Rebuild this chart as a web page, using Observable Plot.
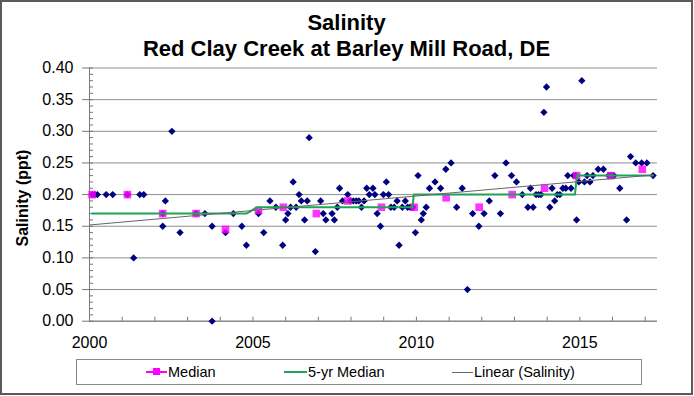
<!DOCTYPE html>
<html><head><meta charset="utf-8">
<script src="https://cdn.jsdelivr.net/npm/d3@7"></script>
<script src="https://cdn.jsdelivr.net/npm/@observablehq/plot@0.6"></script>
<style>
body{margin:0;background:#fff;font-family:"Liberation Sans",Arial,sans-serif;}
#chart{position:relative;width:694px;height:396px;overflow:hidden;background:#fff;}
#chart svg{position:absolute;left:0;top:0;}
#frame{position:absolute;left:0;top:0;width:693px;height:395px;box-sizing:border-box;border:2px solid #5a5a5a;pointer-events:none;}
.title{position:absolute;left:0;width:693px;text-align:center;font-weight:bold;font-size:22px;line-height:22px;color:#000;white-space:nowrap;}
#ytitle{position:absolute;left:23px;top:198px;transform:translate(-50%,-50%) rotate(-90deg);font-weight:bold;font-size:16px;white-space:nowrap;color:#000;}
#legend{position:absolute;left:76px;top:359px;width:566px;height:26px;box-sizing:border-box;border:1px solid #8a8a8a;background:#fff;}
.lg{position:absolute;top:0;height:24px;line-height:24px;font-size:14.5px;color:#000;white-space:nowrap;}
.sw{position:absolute;top:12px;}
</style>
</head><body>
<div id="chart">
  <div class="title" style="top:11.5px">Salinity</div>
  <div class="title" style="top:37.5px">Red Clay Creek at Barley Mill Road, DE</div>
  <div id="ytitle">Salinity (ppt)</div>
  <div id="legend">
    <div class="sw" style="left:69px;width:21px;height:2px;top:11px;background:#ff00ff"></div>
    <div class="sw" style="left:76px;width:7px;height:7px;top:8px;background:#ff00ff"></div>
    <div class="lg" style="left:91px">Median</div>
    <div class="sw" style="left:207px;width:23px;height:2px;top:11px;background:#1fa455"></div>
    <div class="lg" style="left:231px">5-yr Median</div>
    <div class="sw" style="left:375px;width:21px;height:1px;top:12px;background:#666"></div>
    <div class="lg" style="left:397px">Linear (Salinity)</div>
  </div>
  <div id="frame"></div>
</div>
<script>
// Sample dates (decimal years) and salinity values (ppt)
const salDate = [
  2000.08, 2000.16, 2000.24, 2000.51, 2000.71,
  2001.16, 2001.35, 2001.54, 2001.66,
  2002.24, 2002.24, 2002.32, 2002.52, 2002.77,
  2003.26, 2003.53, 2003.75, 2003.75,
  2004.16, 2004.40, 2004.66, 2004.80,
  2005.17, 2005.33, 2005.52, 2005.70, 2005.91,
  2006.00, 2006.07, 2006.15, 2006.23, 2006.32, 2006.41, 2006.48, 2006.58, 2006.66, 2006.72, 2006.91,
  2007.07, 2007.15, 2007.23, 2007.42, 2007.49, 2007.58, 2007.65, 2007.74, 2007.90, 2007.98,
  2008.07, 2008.16, 2008.24, 2008.32, 2008.40, 2008.48, 2008.56, 2008.67, 2008.73, 2008.80, 2008.90, 2008.99,
  2009.08, 2009.15, 2009.22, 2009.32, 2009.41, 2009.47, 2009.57, 2009.66, 2009.73, 2009.81, 2009.89, 2009.97,
  2010.05, 2010.15, 2010.21, 2010.30, 2010.40, 2010.57, 2010.74, 2010.90,
  2011.06, 2011.23, 2011.40, 2011.56, 2011.72, 2011.91,
  2012.07, 2012.23, 2012.40, 2012.57, 2012.74, 2012.91,
  2013.06, 2013.24, 2013.41, 2013.49, 2013.57, 2013.66, 2013.74, 2013.81, 2013.90, 2013.98,
  2014.08, 2014.15, 2014.23, 2014.31, 2014.39, 2014.48, 2014.57, 2014.63, 2014.73, 2014.81, 2014.87, 2014.90, 2014.97,
  2015.06, 2015.14, 2015.22, 2015.31, 2015.40, 2015.56, 2015.72, 2015.88, 2015.97,
  2016.04, 2016.22, 2016.43, 2016.55, 2016.71, 2016.89,
  2017.05, 2017.24
];
const salValue = [
  0.20, 0.20, 0.20, 0.20, 0.20,
  0.20, 0.10, 0.20, 0.20,
  0.17, 0.15, 0.19, 0.30, 0.14,
  0.17, 0.17, 0.15, 0.00,
  0.14, 0.17, 0.15, 0.12,
  0.17, 0.14, 0.19, 0.18, 0.12,
  0.16, 0.17, 0.18, 0.22, 0.18, 0.20, 0.19, 0.16, 0.19, 0.29, 0.11,
  0.19, 0.17, 0.16, 0.17, 0.16, 0.18, 0.21, 0.19, 0.20, 0.19,
  0.19, 0.19, 0.19, 0.18, 0.19, 0.21, 0.20, 0.21, 0.20, 0.17, 0.15, 0.20,
  0.22, 0.20, 0.18, 0.18, 0.19, 0.12, 0.18, 0.19, 0.18, 0.18, 0.18, 0.14,
  0.23, 0.16, 0.17, 0.18, 0.21, 0.22, 0.21, 0.24,
  0.25, 0.18, 0.21, 0.05, 0.17, 0.15,
  0.17, 0.19, 0.23, 0.17, 0.25, 0.23,
  0.22, 0.20, 0.18, 0.21, 0.18, 0.20, 0.20, 0.20, 0.33, 0.37,
  0.18, 0.21, 0.19, 0.20, 0.20, 0.21, 0.21, 0.23, 0.21, 0.23, 0.23, 0.16, 0.22,
  0.38, 0.22, 0.23, 0.22, 0.23, 0.24, 0.24, 0.23, 0.23,
  0.23, 0.21, 0.16, 0.26, 0.25, 0.25,
  0.25, 0.23
];
// Annual medians
const medianDate = [2000.08, 2001.16, 2002.24, 2003.26, 2004.16, 2005.17, 2005.93, 2006.94, 2007.90,
  2008.93, 2009.93, 2010.91, 2011.92, 2012.93, 2013.92, 2014.90, 2015.94, 2016.91];
const medianValue = [0.20, 0.20, 0.17, 0.17, 0.145, 0.175, 0.18, 0.17, 0.19,
  0.18, 0.18, 0.195, 0.18, 0.20, 0.21, 0.23, 0.23, 0.24];
// 5-yr median
const fiveYrDate = [2000.08, 2004.80, 2005.13, 2009.88, 2009.92, 2014.85, 2014.91, 2017.24];
const fiveYrValue = [0.17, 0.17, 0.18, 0.18, 0.20, 0.20, 0.23, 0.23];
// Linear (Salinity) trend line end points
const trendDate = [2000.0, 2017.24];
const trendValue = [0.152, 0.231];
// Axis ticks
const yTickValues = [0, 0.05, 0.10, 0.15, 0.20, 0.25, 0.30, 0.35, 0.40];
const xTickLabels = [2000, 2005, 2010, 2015];
const yMinor = d3.range(0, 0.4001, 0.01);
const xMinor = d3.range(2000, 2018, 1);

const sal = salDate.map((d, i) => ({date: d, value: salValue[i]}));
const med = medianDate.map((d, i) => ({date: d, value: medianValue[i]}));
const five = fiveYrDate.map((d, i) => ({date: d, value: fiveYrValue[i]}));
const trend = trendDate.map((d, i) => ({date: d, value: trendValue[i]}));

const chart = Plot.plot({
  width: 694,
  height: 396,
  marginLeft: 89,
  marginRight: 37,
  marginTop: 67.5,
  marginBottom: 75.3,
  style: {fontFamily: "'Liberation Sans', Arial, sans-serif", background: "transparent", color: "#000", overflow: "visible"},
  x: {domain: [2000, 2017.375], label: null},
  y: {domain: [0, 0.4], label: null},
  marks: [
    Plot.ruleY(yTickValues, {stroke: "#8e8e8e", strokeWidth: 1}),
    Plot.axisY({ticks: yMinor, tickSize: 4, dx: 4, fill: "none", stroke: "#777"}),
    Plot.axisY({ticks: yTickValues, tickSize: 7, tickPadding: 9, tickFormat: d3.format(".2f"), fontSize: 16, stroke: "#777", fill: "#000"}),
    Plot.axisX({ticks: xMinor, tickSize: 4, dy: -4, fill: "none", stroke: "#777"}),
    Plot.axisX({ticks: xTickLabels, tickSize: 0, tickPadding: 15, tickFormat: d => String(d), fontSize: 16, fill: "#000"}),
    Plot.ruleX([2000], {stroke: "#7a7a7a"}),
    Plot.ruleY([0], {stroke: "#7a7a7a"}),
    Plot.dot(sal, {x: "date", y: "value", symbol: "diamond2", r: 3.3, fill: "#000080", stroke: "none"}),
    Plot.dot(med, {x: "date", y: "value", symbol: "square", r: 4.3, fill: "#ff00ff", fillOpacity: 0.8, stroke: "none"}),
    Plot.line(five, {x: "date", y: "value", stroke: "#1fa455", strokeWidth: 2}),
    Plot.line(trend, {x: "date", y: "value", stroke: "#666", strokeWidth: 1})
  ]
});
document.getElementById("chart").insertBefore(chart, document.getElementById("ytitle"));
</script>
</body></html>
